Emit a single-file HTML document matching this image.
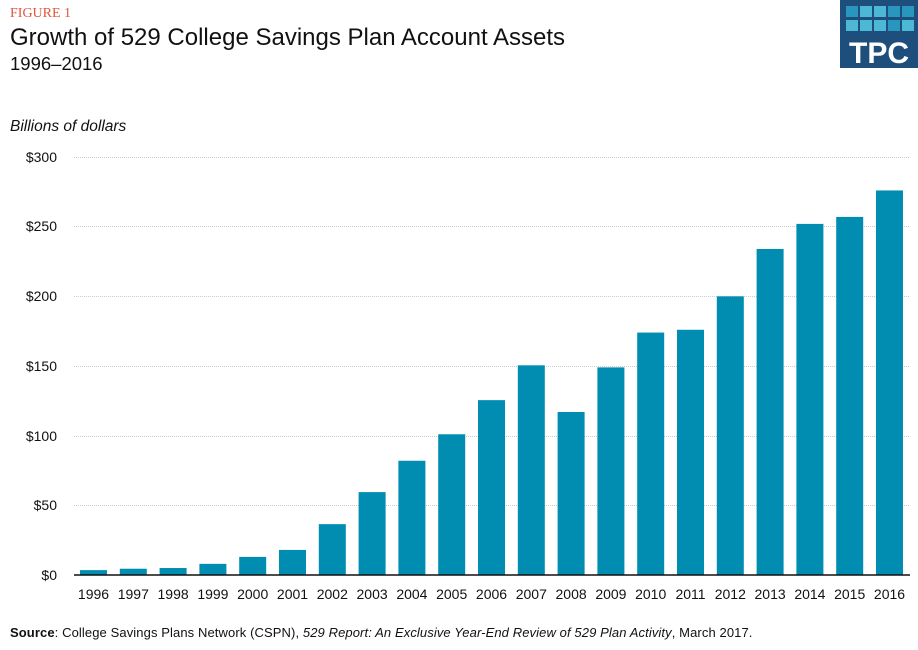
<!DOCTYPE html>
<html><head><meta charset="utf-8"><style>
body{margin:0;width:918px;height:645px;background:#fff;overflow:hidden;font-family:"Liberation Sans",sans-serif}
</style></head><body>
<svg width="918" height="645" xmlns="http://www.w3.org/2000/svg" font-family="Liberation Sans, sans-serif">
<text x="10" y="17" font-family="Liberation Serif, serif" font-size="14" fill="#e0563f">FIGURE 1</text>
<text x="10" y="45" font-size="24" fill="#111">Growth of 529 College Savings Plan Account Assets</text>
<text x="10" y="70" font-size="18.5" fill="#111">1996–2016</text>
<text x="10" y="131" font-size="15.5" font-style="italic" fill="#111">Billions of dollars</text>
<rect x="840" y="0" width="78" height="68" fill="#1e4f7c"/>
<g fill="#4cb8d6">
<rect x="846" y="6" width="12" height="11" fill="#2896be"/><rect x="860" y="6" width="12" height="11"/><rect x="874" y="6" width="12" height="11"/><rect x="888" y="6" width="12" height="11" fill="#2896be"/><rect x="902" y="6" width="12" height="11" fill="#2896be"/>
<rect x="846" y="20" width="12" height="11"/><rect x="860" y="20" width="12" height="11"/><rect x="874" y="20" width="12" height="11"/><rect x="888" y="20" width="12" height="11" fill="#2896be"/><rect x="902" y="20" width="12" height="11"/>
</g>
<text x="879" y="63" font-size="30" font-weight="bold" fill="#fff" text-anchor="middle">TPC</text>
<g stroke="#ccc" stroke-width="1" stroke-dasharray="1,1">
<line x1="74" x2="910" y1="157.5" y2="157.5"/><line x1="74" x2="910" y1="226.5" y2="226.5"/><line x1="74" x2="910" y1="296.5" y2="296.5"/><line x1="74" x2="910" y1="366.5" y2="366.5"/><line x1="74" x2="910" y1="436.5" y2="436.5"/><line x1="74" x2="910" y1="505.5" y2="505.5"/>
</g>
<g font-size="14" fill="#111" text-anchor="end">
<text x="57" y="162">$300</text><text x="57" y="231">$250</text><text x="57" y="301">$200</text><text x="57" y="371">$150</text><text x="57" y="441">$100</text><text x="57" y="510">$50</text><text x="57" y="580">$0</text>
</g>
<g fill="#008db1" id="bars"></g>
<line x1="74" x2="910" y1="575" y2="575" stroke="#111" stroke-width="1.5"/>
<g font-size="14" fill="#111" text-anchor="middle" id="labels"></g>
<text x="10" y="637" font-size="13" letter-spacing="0.1" fill="#111"><tspan font-weight="bold">Source</tspan>: College Savings Plans Network (CSPN), <tspan font-style="italic">529 Report: An Exclusive Year-End Review of 529 Plan Activity</tspan>, March 2017.</text>
<script>
var v=[3.5,4.5,5,8,13,18,36.5,59.5,82,101,125.5,150.5,117,149,174,176,200,234,252,257,276];
var b=document.getElementById('bars'),l=document.getElementById('labels'),ns='http://www.w3.org/2000/svg';
for(var i=0;i<21;i++){var cx=93.5+i*39.8,h=v[i]*1.3933;
var r=document.createElementNS(ns,'rect');r.setAttribute('x',cx-13.5);r.setAttribute('width',27);r.setAttribute('y',575-h);r.setAttribute('height',h);b.appendChild(r);
var t=document.createElementNS(ns,'text');t.setAttribute('x',cx);t.setAttribute('y',599);t.textContent=1996+i;l.appendChild(t);}
</script>
</svg>
</body></html>
